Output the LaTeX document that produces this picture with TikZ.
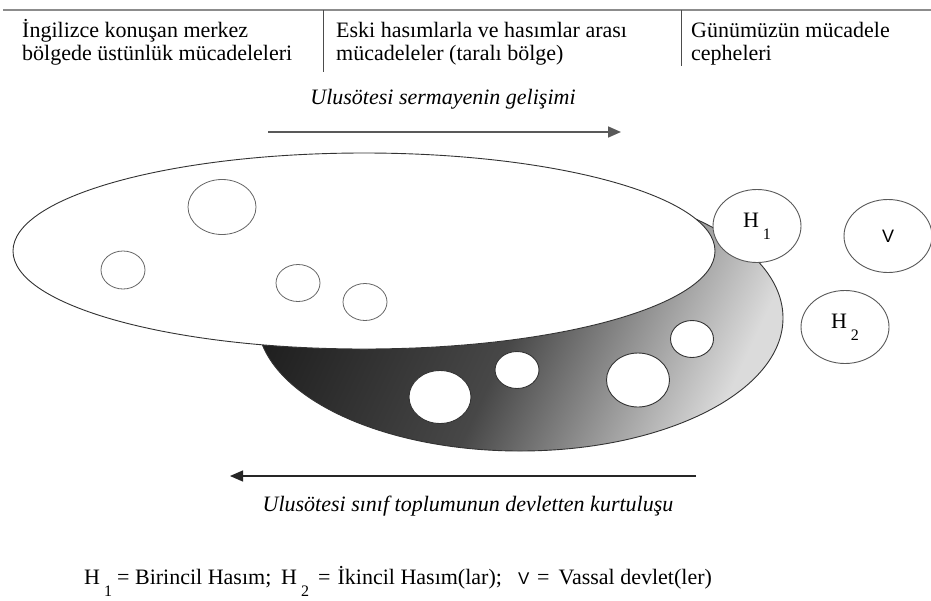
\documentclass[tikz,border=0pt]{standalone}
\usepackage{fontspec}
\setmainfont{Liberation Serif}
\newfontfamily\vfont{Liberation Sans}
\usetikzlibrary{arrows.meta,shapes.geometric}
\newcommand\HS[1]{H\kern4pt\raisebox{-12pt}{\fontsize{16}{16}\selectfont #1}}
\newcommand\VS[1]{{\vfont\fontsize{#1}{#1}\selectfont V}}
\begin{document}
\begin{tikzpicture}[x=1pt,y=-1pt,
  txt/.style={font=\fontsize{22}{22}\selectfont, inner sep=0pt, anchor=base west},
  itxt/.style={font=\fontsize{22}{22}\selectfont\itshape, inner sep=0pt, anchor=base},
  hole/.style={ellipse, draw=black!80, fill=white, line width=0.9pt, inner sep=0pt},
  bubble/.style={ellipse, draw=black!60, line width=0.8pt, inner sep=0pt},
  agent/.style={ellipse, draw=black!65, fill=white, line width=0.9pt, inner sep=0pt,
    minimum width=88pt, minimum height=73pt, font=\fontsize{22}{22}\selectfont},
  divider/.style={draw=black!70, line width=0.9pt},
  arrowline/.style={line width=1.6pt, -{Triangle[length=13pt,width=11pt]}}
]
\useasboundingbox[fill=white] (0,0) rectangle (931,600);

% header
\coordinate (hl) at (3,10);
\coordinate (hr) at (931,10);
\draw[black!45, line width=2pt] (hl) -- (hr);
\coordinate (d1t) at (323,10); \coordinate (d1b) at (323,72);
\coordinate (d2t) at (681,10); \coordinate (d2b) at (681,66);
\draw[divider] (d1t) -- (d1b);
\draw[divider] (d2t) -- (d2b);
\node[txt] (c1a) at (22,37) {İngilizce konuşan merkez};
\node[txt] (c1b) at (22,60) {bölgede üstünlük mücadeleleri};
\node[txt] (c2a) at (336,37) {Eski hasımlarla ve hasımlar arası};
\node[txt] (c2b) at (336,60) {mücadeleler (taralı bölge)};
\node[txt] (c3a) at (691,37) {Günümüzün mücadele};
\node[txt] (c3b) at (691,60) {cepheleri};

% top arrow
\node[itxt] (topt) at (443,104) {Ulusötesi sermayenin gelişimi};
\coordinate (a1s) at (268,132);
\coordinate (a1e) at (621,132);
\draw[arrowline, black!65] (a1s) -- (a1e);

% shaded region
\node[ellipse, draw=black!80, line width=0.9pt, minimum width=526pt, minimum height=266pt,
  inner sep=0pt, left color=black!88, right color=black!14, middle color=black!72,
  shading angle=65] (zone) at (520,318) {};
\node[hole, minimum width=62pt, minimum height=53pt] (g1) at (440,397) {};
\node[hole, minimum width=44pt, minimum height=37pt] (g2) at (517,370) {};
\node[hole, minimum width=63pt, minimum height=54pt] (g3) at (638,380) {};
\node[hole, minimum width=43pt, minimum height=37pt] (g4) at (692,339) {};

% core ellipse
\node[ellipse, draw=black!80, fill=white, line width=0.9pt, minimum width=702pt,
  minimum height=196pt, inner sep=0pt] (core) at (364,251) {};
\node[bubble, minimum width=68pt, minimum height=55pt] (b1) at (222,207) {};
\node[bubble, minimum width=44pt, minimum height=38pt] (b2) at (123,270) {};
\node[bubble, minimum width=44pt, minimum height=37pt] (b3) at (298,283) {};
\node[bubble, minimum width=44pt, minimum height=37pt] (b4) at (365,302) {};

% agents
\node[agent] (H1) at (757,226) {\HS{1}};
\node[agent] (V) at (888,236) {\VS{18}};
\node[agent] (H2) at (845,327) {\HS{2}};

% bottom arrow
\coordinate (a2s) at (696,476);
\coordinate (a2e) at (230,476);
\draw[arrowline, black!85, line width=1.3pt] (a2s) -- (a2e);
\node[itxt] (bott) at (468,511) {Ulusötesi sınıf toplumunun devletten kurtuluşu};

% legend
\node[txt] (lg1) at (84,584) {\HS{1}};
\node[txt] (lg2) at (117,584) {= Birincil Hasım;};
\node[txt] (lg3) at (281,584) {\HS{2}};
\node[txt] (lg4) at (318,584) {=\hspace{7pt}İkincil Hasım(lar);};
\node[txt] (lg5) at (518,584) {\VS{17}};
\node[txt] (lg6) at (537,584) {=\hspace{9pt}Vassal devlet(ler)};
\end{tikzpicture}
\end{document}
